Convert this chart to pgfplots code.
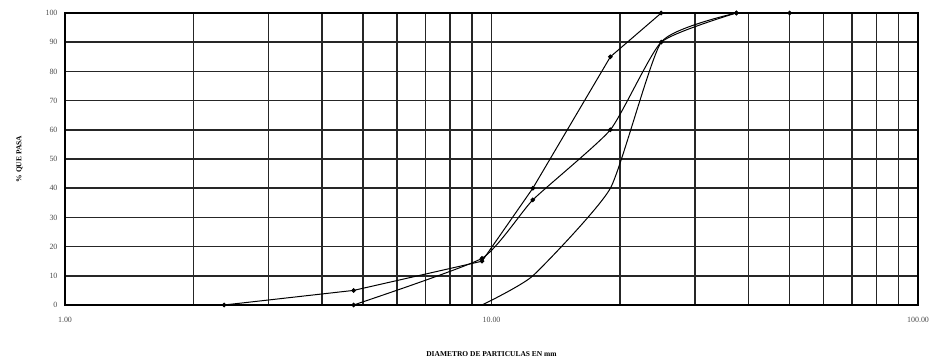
\documentclass[border=0pt]{standalone}
\usepackage{pgfplots}
\pgfplotsset{compat=1.18}
\usepackage{fontspec}
\setmainfont{Liberation Serif}
\begin{document}
\begin{tikzpicture}[x=1bp,y=1bp]
\path (-65,-58) rectangle (873,305);
\begin{axis}[
  at={(0,0)}, anchor=origin,
  scale only axis, width=853bp, height=292bp,
  xmode=log, xmin=1, xmax=100, ymin=0, ymax=100,
  xtick={1,10,100}, xticklabels={1.00,10.00,100.00},
  ytick={0,10,...,100},
  minor xtick={2,3,4,5,6,7,8,9,20,30,40,50,60,70,80,90},
  grid=both,
  major grid style={black!85, line width=1.5bp},
  minor grid style={black!85, line width=1.5bp},
  axis line style={black, line width=2.6bp},
  major tick length=0pt, minor tick length=0pt,
  /pgf/number format/assume math mode=true,
  tick label style={font=\fontsize{8}{9}\selectfont, text=black!70},
  yticklabel style={xshift=-4bp},
  xticklabel style={yshift=-9bp},
  xlabel={\textbf{DIAMETRO DE PARTICULAS EN mm}},
  ylabel={\textbf{\% QUE PASA}},
  label style={font=\fontsize{7.5}{9}\selectfont},
  xlabel style={at={(axis description cs:0.5,0)}, anchor=north, yshift=-43bp},
  ylabel shift=16bp,
  clip=false,
  every axis plot/.append style={black, line width=1bp},
]
% upper limit
\addplot[mark=*, mark size=1.8bp] coordinates {(2.36,0) (4.75,5) (9.5,15) (12.5,40) (19,85) (25,100)};
% sample
\addplot[mark=*, mark size=1.8bp, smooth, tension=0.3] coordinates {(4.75,0) (9.5,16) (12.5,36) (19,60) (25,90) (37.5,100)};
\addplot[mark=*, mark size=1.8bp] coordinates {(37.5,100) (50,100)};
% lower limit
\addplot[no marks, smooth, tension=0.3] coordinates {(9.5,0) (12.5,10) (19,40) (25,90) (37.5,100)};
\end{axis}
\end{tikzpicture}
\end{document}
